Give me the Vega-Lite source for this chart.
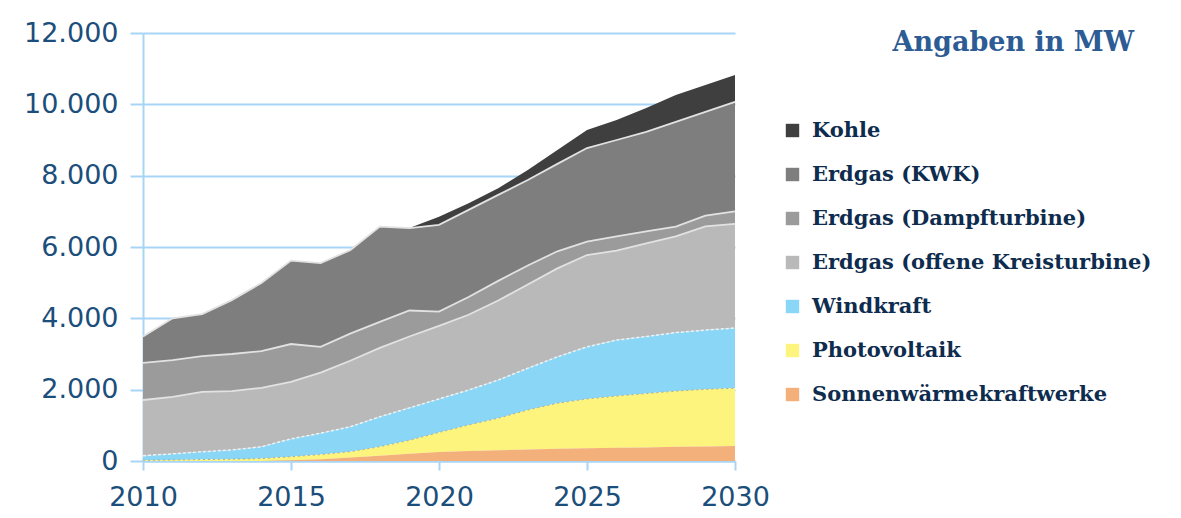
{
  "$schema": "https://vega.github.io/schema/vega-lite/v6.json",
  "width": 592,
  "height": 428,
  "autosize": {"type": "none"},
  "padding": {"left": 143, "top": 33, "right": 446, "bottom": 57},
  "background": "white",
  "datasets": {
    "werte": [
      {"Jahr": 2010, "Kohle": 0, "Erdgas (KWK)": 740, "Erdgas (Dampfturbine)": 1040, "Erdgas (offene Kreisturbine)": 1560, "Windkraft": 130, "Photovoltaik": 20, "Sonnenwärmekraftwerke": 0},
      {"Jahr": 2011, "Kohle": 0, "Erdgas (KWK)": 1170, "Erdgas (Dampfturbine)": 1030, "Erdgas (offene Kreisturbine)": 1600, "Windkraft": 170, "Photovoltaik": 30, "Sonnenwärmekraftwerke": 0},
      {"Jahr": 2012, "Kohle": 0, "Erdgas (KWK)": 1180, "Erdgas (Dampfturbine)": 1000, "Erdgas (offene Kreisturbine)": 1680, "Windkraft": 220, "Photovoltaik": 40, "Sonnenwärmekraftwerke": 0},
      {"Jahr": 2013, "Kohle": 0, "Erdgas (KWK)": 1510, "Erdgas (Dampfturbine)": 1040, "Erdgas (offene Kreisturbine)": 1650, "Windkraft": 260, "Photovoltaik": 50, "Sonnenwärmekraftwerke": 0},
      {"Jahr": 2014, "Kohle": 0, "Erdgas (KWK)": 1910, "Erdgas (Dampfturbine)": 1030, "Erdgas (offene Kreisturbine)": 1650, "Windkraft": 330, "Photovoltaik": 70, "Sonnenwärmekraftwerke": 0},
      {"Jahr": 2015, "Kohle": 0, "Erdgas (KWK)": 2340, "Erdgas (Dampfturbine)": 1060, "Erdgas (offene Kreisturbine)": 1600, "Windkraft": 500, "Photovoltaik": 100, "Sonnenwärmekraftwerke": 20},
      {"Jahr": 2016, "Kohle": 0, "Erdgas (KWK)": 2350, "Erdgas (Dampfturbine)": 720, "Erdgas (offene Kreisturbine)": 1700, "Windkraft": 600, "Photovoltaik": 130, "Sonnenwärmekraftwerke": 50},
      {"Jahr": 2017, "Kohle": 0, "Erdgas (KWK)": 2340, "Erdgas (Dampfturbine)": 760, "Erdgas (offene Kreisturbine)": 1850, "Windkraft": 700, "Photovoltaik": 160, "Sonnenwärmekraftwerke": 100},
      {"Jahr": 2018, "Kohle": 0, "Erdgas (KWK)": 2670, "Erdgas (Dampfturbine)": 730, "Erdgas (offene Kreisturbine)": 1930, "Windkraft": 840, "Photovoltaik": 250, "Sonnenwärmekraftwerke": 150},
      {"Jahr": 2019, "Kohle": 0, "Erdgas (KWK)": 2310, "Erdgas (Dampfturbine)": 730, "Erdgas (offene Kreisturbine)": 2000, "Windkraft": 910, "Photovoltaik": 380, "Sonnenwärmekraftwerke": 200},
      {"Jahr": 2020, "Kohle": 230, "Erdgas (KWK)": 2430, "Erdgas (Dampfturbine)": 400, "Erdgas (offene Kreisturbine)": 2050, "Windkraft": 940, "Photovoltaik": 550, "Sonnenwärmekraftwerke": 250},
      {"Jahr": 2021, "Kohle": 190, "Erdgas (KWK)": 2440, "Erdgas (Dampfturbine)": 500, "Erdgas (offene Kreisturbine)": 2110, "Windkraft": 980, "Photovoltaik": 730, "Sonnenwärmekraftwerke": 280},
      {"Jahr": 2022, "Kohle": 190, "Erdgas (KWK)": 2410, "Erdgas (Dampfturbine)": 550, "Erdgas (offene Kreisturbine)": 2230, "Windkraft": 1070, "Photovoltaik": 900, "Sonnenwärmekraftwerke": 300},
      {"Jahr": 2023, "Kohle": 280, "Erdgas (KWK)": 2400, "Erdgas (Dampfturbine)": 530, "Erdgas (offene Kreisturbine)": 2350, "Windkraft": 1170, "Photovoltaik": 1110, "Sonnenwärmekraftwerke": 320},
      {"Jahr": 2024, "Kohle": 390, "Erdgas (KWK)": 2450, "Erdgas (Dampfturbine)": 480, "Erdgas (offene Kreisturbine)": 2480, "Windkraft": 1300, "Photovoltaik": 1280, "Sonnenwärmekraftwerke": 340},
      {"Jahr": 2025, "Kohle": 505, "Erdgas (KWK)": 2625, "Erdgas (Dampfturbine)": 375, "Erdgas (offene Kreisturbine)": 2575, "Windkraft": 1460, "Photovoltaik": 1380, "Sonnenwärmekraftwerke": 360},
      {"Jahr": 2026, "Kohle": 560, "Erdgas (KWK)": 2700, "Erdgas (Dampfturbine)": 400, "Erdgas (offene Kreisturbine)": 2510, "Windkraft": 1570, "Photovoltaik": 1450, "Sonnenwärmekraftwerke": 370},
      {"Jahr": 2027, "Kohle": 670, "Erdgas (KWK)": 2790, "Erdgas (Dampfturbine)": 340, "Erdgas (offene Kreisturbine)": 2610, "Windkraft": 1600, "Photovoltaik": 1510, "Sonnenwärmekraftwerke": 380},
      {"Jahr": 2028, "Kohle": 750, "Erdgas (KWK)": 2940, "Erdgas (Dampfturbine)": 270, "Erdgas (offene Kreisturbine)": 2700, "Windkraft": 1640, "Photovoltaik": 1560, "Sonnenwärmekraftwerke": 400},
      {"Jahr": 2029, "Kohle": 750, "Erdgas (KWK)": 2910, "Erdgas (Dampfturbine)": 300, "Erdgas (offene Kreisturbine)": 2910, "Windkraft": 1660, "Photovoltaik": 1600, "Sonnenwärmekraftwerke": 410},
      {"Jahr": 2030, "Kohle": 750, "Erdgas (KWK)": 3070, "Erdgas (Dampfturbine)": 350, "Erdgas (offene Kreisturbine)": 2920, "Windkraft": 1690, "Photovoltaik": 1620, "Sonnenwärmekraftwerke": 420}
    ],
    "reihen": [
      {"Quelle": "Kohle", "rang": 7},
      {"Quelle": "Erdgas (KWK)", "rang": 6},
      {"Quelle": "Erdgas (Dampfturbine)", "rang": 5},
      {"Quelle": "Erdgas (offene Kreisturbine)", "rang": 4},
      {"Quelle": "Windkraft", "rang": 3},
      {"Quelle": "Photovoltaik", "rang": 2},
      {"Quelle": "Sonnenwärmekraftwerke", "rang": 1}
    ]
  },
  "data": {"name": "werte"},
  "transform": [
    {"fold": ["Kohle", "Erdgas (KWK)", "Erdgas (Dampfturbine)", "Erdgas (offene Kreisturbine)", "Windkraft", "Photovoltaik", "Sonnenwärmekraftwerke"], "as": ["Quelle", "MW"]},
    {"lookup": "Quelle", "from": {"data": {"name": "reihen"}, "key": "Quelle", "fields": ["rang"]}},
    {"stack": "MW", "groupby": ["Jahr"], "sort": [{"field": "rang", "order": "ascending"}], "as": ["MW0", "MW1"]}
  ],
  "title": {
    "text": "Angaben in MW",
    "anchor": "end",
    "frame": "group",
    "dx": 399,
    "dy": 38,
    "offset": 0,
    "font": "DejaVu Serif",
    "fontSize": 27,
    "fontWeight": "bold",
    "color": "#2d5b94"
  },
  "layer": [
    {
      "mark": {"type": "area", "interpolate": "linear"},
      "encoding": {
        "x": {
          "field": "Jahr", "type": "quantitative",
          "scale": {"domain": [2010, 2030], "nice": false, "zero": false},
          "axis": {"values": [2010, 2015, 2020, 2025, 2030], "format": "d", "title": null, "grid": false, "tickSize": 9, "labelPadding": 14, "labelFlush": false, "labelOverlap": false}
        },
        "y": {
          "field": "MW1", "type": "quantitative",
          "scale": {"domain": [0, 12000], "nice": false},
          "axis": {"values": [0, 2000, 4000, 6000, 8000, 10000, 12000], "labelExpr": "replace(format(datum.value, ',d'), ',', '.')", "title": null, "grid": true, "tickSize": 13, "labelPadding": 12, "labelFlush": false, "labelOverlap": false}
        },
        "y2": {"field": "MW0"},
        "color": {
          "field": "Quelle", "type": "nominal",
          "scale": {
            "domain": ["Kohle", "Erdgas (KWK)", "Erdgas (Dampfturbine)", "Erdgas (offene Kreisturbine)", "Windkraft", "Photovoltaik", "Sonnenwärmekraftwerke"],
            "range": ["#3f3f3f", "#7e7e7e", "#9b9b9b", "#b9b9b9", "#8ad6f6", "#fcf47c", "#f3b07a"]
          },
          "legend": {
            "title": null,
            "orient": "none",
            "legendX": 639,
            "legendY": 87,
            "symbolType": "square",
            "symbolSize": 180,
            "symbolStrokeWidth": 0,
            "labelFont": "DejaVu Serif",
            "labelFontWeight": "bold",
            "labelFontSize": 21,
            "labelColor": "#0e2c4e",
            "labelOffset": 9,
            "labelLimit": 420,
            "rowPadding": 22
          }
        }
      }
    },
    {
      "transform": [{"filter": {"field": "Quelle", "oneOf": ["Erdgas (KWK)", "Erdgas (Dampfturbine)", "Erdgas (offene Kreisturbine)"]}}],
      "mark": {"type": "line", "color": "#e2e2e2", "strokeWidth": 1.8},
      "encoding": {
        "x": {"field": "Jahr", "type": "quantitative"},
        "y": {"field": "MW1", "type": "quantitative"},
        "detail": {"field": "Quelle"}
      }
    },
    {
      "transform": [{"filter": {"field": "Quelle", "equal": "Windkraft"}}],
      "mark": {"type": "line", "color": "#f2f2f2", "strokeWidth": 1.5, "strokeDash": [3, 2]},
      "encoding": {
        "x": {"field": "Jahr", "type": "quantitative"},
        "y": {"field": "MW1", "type": "quantitative"}
      }
    },
    {
      "transform": [{"filter": {"field": "Quelle", "equal": "Photovoltaik"}}],
      "mark": {"type": "line", "color": "#a9ad98", "strokeWidth": 1, "strokeDash": [2, 3]},
      "encoding": {
        "x": {"field": "Jahr", "type": "quantitative"},
        "y": {"field": "MW1", "type": "quantitative"}
      }
    }
  ],
  "config": {
    "view": {"stroke": null},
    "axis": {
      "domainColor": "#a8d5f5",
      "domainWidth": 2,
      "gridColor": "#a8d5f5",
      "gridWidth": 2,
      "tickColor": "#a8d5f5",
      "tickWidth": 2,
      "labelFont": "DejaVu Sans",
      "labelFontSize": 27,
      "labelColor": "#1b4e7b"
    }
  }
}
